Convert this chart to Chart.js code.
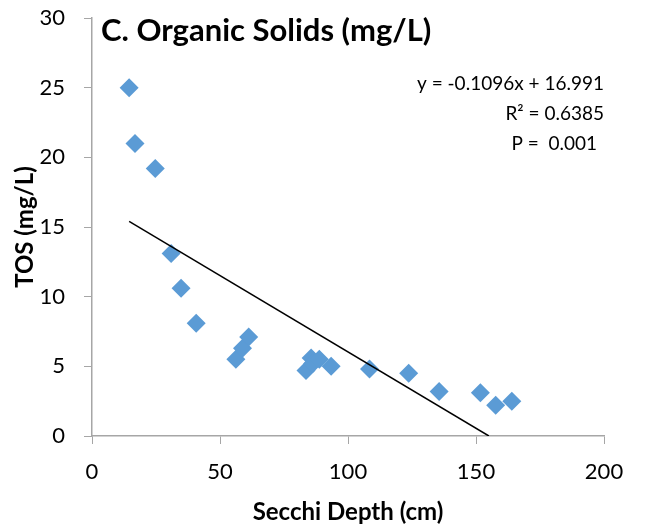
<!DOCTYPE html>
<html lang="en">
<head>
<meta charset="UTF-8">
<title>Organic Solids vs Secchi Depth</title>
<script src="https://cdn.jsdelivr.net/npm/chart.js"></script>
<style>
  html, body { margin: 0; padding: 0; background: #fff; }
  #wrap { width: 667px; height: 528px; }
</style>
</head>
<body>
<div id="wrap"><canvas id="myChart" width="667" height="528"></canvas></div>
<script>
// Secchi depth (cm) and total organic solids (mg/L)
const secchi = [14.5, 16.8, 24.7, 30.9, 34.8, 40.7, 56.2, 58.8, 61.2, 83.6, 85.6, 86.2, 88.8, 93.4, 108.4, 123.7, 135.6, 151.7, 157.7, 164];
const tos    = [25.0, 21.0, 19.2, 13.1, 10.6, 8.1, 5.5, 6.3, 7.1, 4.7, 5.6, 5.2, 5.5, 5.0, 4.8, 4.5, 3.2, 3.1, 2.2, 2.5];

// linear fit shown on the chart
const slope = -0.1096;
const intercept = 16.991;
const fitLabels = ['y = -0.1096x + 16.991', 'R² = 0.6385', 'P =  0.001'];

const FONT = 'Lato, "Open Sans", sans-serif';

const points = secchi.map((x, i) => ({ x: x, y: tos[i] }));
const xStart = Math.min(...secchi);
const xEnd = -intercept / slope;
const fitLine = [
  { x: xStart, y: slope * xStart + intercept },
  { x: xEnd, y: 0 }
];

const textPlugin = {
  id: 'texts',
  afterDraw(chart) {
    const ctx = chart.ctx;
    const a = chart.chartArea;
    ctx.save();
    ctx.fillStyle = '#000';
    ctx.textBaseline = 'middle';
    ctx.font = 'bold 31px ' + FONT;
    ctx.textAlign = 'left';
    ctx.fillText('C. Organic Solids (mg/L)', a.left + 9, 31);
    ctx.font = '19px ' + FONT;
    ctx.textAlign = 'right';
    ctx.fillText(fitLabels[0], a.right, 84);
    ctx.fillText(fitLabels[1], a.right, 114);
    ctx.fillText(fitLabels[2], a.right - 7, 144);
    ctx.restore();
  }
};

const axisColor = '#a6a6a6';

const ctx = document.getElementById('myChart').getContext('2d');
const myChart = new Chart(ctx, {
  type: 'scatter',
  data: {
    datasets: [
      {
        label: 'TOS',
        data: points,
        pointStyle: 'rectRot',
        pointRadius: 9.5,
        pointHoverRadius: 9.5,
        backgroundColor: '#5b9bd5',
        borderColor: '#5b9bd5',
        borderWidth: 0,
        order: 2
      },
      {
        label: 'Linear',
        type: 'line',
        data: fitLine,
        borderColor: '#000',
        borderWidth: 1.5,
        pointRadius: 0,
        fill: false,
        order: 1
      }
    ]
  },
  options: {
    responsive: false,
    animation: false,
    layout: { padding: { top: 18, right: 63, left: 0, bottom: 0 } },
    plugins: {
      legend: { display: false },
      tooltip: { enabled: false }
    },
    scales: {
      x: {
        type: 'linear',
        min: 0,
        max: 200,
        ticks: { stepSize: 50, color: '#000', font: { family: FONT, size: 22 }, padding: 15 },
        grid: { drawOnChartArea: false, drawTicks: true, tickLength: 8, color: axisColor },
        border: { color: axisColor, width: 1.5 },
        title: { display: true, text: 'Secchi Depth (cm)', color: '#000', font: { family: FONT, size: 24, weight: 'bold' }, padding: { top: 4, bottom: 1 } },
        afterFit(scale) { scale.height = 92; scale.paddingLeft = 0; scale.paddingRight = 0; }
      },
      y: {
        type: 'linear',
        min: 0,
        max: 30,
        ticks: { stepSize: 5, color: '#000', font: { family: FONT, size: 22 }, padding: 19 },
        grid: { drawOnChartArea: false, drawTicks: true, tickLength: 8, color: axisColor },
        border: { color: axisColor, width: 1.5 },
        title: { display: true, text: 'TOS (mg/L)', color: '#000', font: { family: FONT, size: 24, weight: 'bold' }, padding: { top: 11, bottom: 0 } },
        afterFit(scale) { scale.width = 92; scale.paddingTop = 0; scale.paddingBottom = 0; }
      }
    }
  },
  plugins: [textPlugin]
});
</script>
</body>
</html>
